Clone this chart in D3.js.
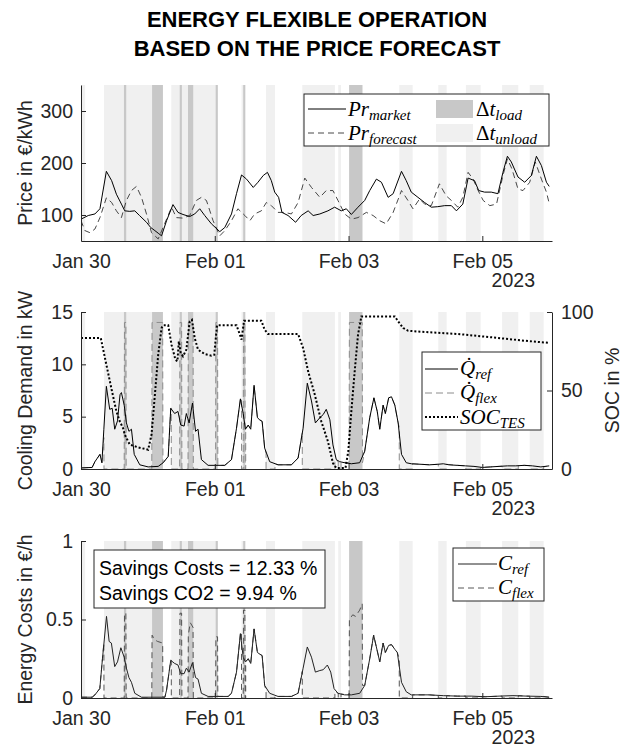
<!DOCTYPE html>
<html>
<head>
<meta charset="utf-8">
<script src="https://cdn.jsdelivr.net/npm/d3@7"></script>
<style>
  body { margin: 0; background: #fff; }
  svg { display: block; }
  text { font-family: "Liberation Sans", Arial, sans-serif; fill: #262626; }
  .math { font-family: "Liberation Serif", "Times New Roman", serif; font-style: italic; fill: #000; }
  .axis path, .axis line { stroke: #262626; }
</style>
</head>
<body>
<svg id="chart" width="634" height="755"></svg>
<script>
(function() {
    'use strict';

    // --- Data (hours since Jan 30 2023 00:00) ---
    var xTickHours = [0, 48, 96, 144];
    var xTickLabels = ['Jan 30', 'Feb 01', 'Feb 03', 'Feb 05'];
    var yearLabel = '2023';

    var loadBands = [[15.4, 16.25], [25.5, 29.4], [35.4, 36.2], [38.4, 40.3], [48.3, 49.1], [58.2, 58.9], [96.2, 101]];
    var unloadBands = [[0, 1.5], [8.25, 15.4], [16.25, 25.5], [32.4, 35.4], [36.2, 38.4], [40.3, 48.3], [57.6, 59.1],
        [66.4, 69.6], [79.4, 91.1], [92.3, 93.3], [114.2, 119], [128.2, 131.2], [138.1, 143.4], [151.1, 156.9], [161, 166]];

    var priceMarket = [[0,92],[2.6,99],[5,102],[6.8,112],[9.1,184],[11,166],[12.7,140],[14.5,121],[15.7,108],[17.5,107],
        [19.3,108],[21,99],[23.5,86],[25,76],[26.5,70],[27.7,65],[28.9,60],[30.7,89],[33,120],[34.8,105],[36.6,101],[39,97],
        [40.8,102],[42.6,112],[44.4,99],[46.8,83],[49.8,68],[51.6,76],[54,102],[55.8,141],[57.6,177],[59.4,169],[61.8,153],
        [63.5,163],[65.4,176],[66.9,182],[68.3,166],[69.5,144],[70.9,134],[72.1,105],[74.3,99],[77,86],[79,99],[81.5,108],
        [83.3,99],[85.7,102],[88.6,108],[91,115],[93.4,108],[95.2,112],[97,101],[99.4,115],[101.8,128],[103.6,147],[106,169],
        [107.8,163],[110.2,134],[112,141],[115,184],[116.7,166],[118.5,144],[120.9,134],[123.3,124],[125.7,115],[128,116],
        [130.5,118],[132.9,118],[134.7,108],[137,121],[138.9,171],[141.2,166],[142.7,147],[144.8,144],[147.2,144],[149.6,141],
        [151.4,182],[153,213],[154.4,202],[156.8,173],[159.2,163],[161.6,176],[163.4,213],[165.2,195],[167,163],[168,155]];

    var priceForecast = [[0,89],[1.4,70],[3.2,66],[5,73],[6.8,95],[9.1,133],[11,124],[12.7,108],[14.5,95],[16.3,128],
        [18.1,147],[19.9,155],[21.7,134],[23.5,102],[25.3,66],[27.7,54],[30,83],[32.5,115],[34.2,95],[36.6,94],[39,99],
        [41.4,128],[43.2,134],[45,128],[47.4,89],[49.8,60],[51.6,70],[54,89],[56.3,112],[58.8,99],[60.6,89],[62.3,102],
        [64.7,108],[66.5,124],[68.3,118],[70.7,105],[73.1,105],[75.5,102],[77.9,124],[80.3,171],[82.7,153],[85.7,134],
        [88,147],[90.4,147],[92.2,128],[94.6,102],[97,92],[99.4,95],[102.4,105],[104.8,99],[107.2,89],[109.5,83],[112,105],
        [115,147],[117.3,128],[119.1,112],[121.5,131],[123.3,121],[125.7,118],[128.6,160],[131,137],[132.9,128],[135.2,115],
        [137,134],[138.9,182],[140.7,169],[142.5,147],[144.3,128],[146.7,118],[149.1,121],[151.4,176],[153,208],[154.6,189],
        [156.8,150],[158.6,147],[161,163],[163,202],[165.2,169],[167,144],[168.1,120]];

    var qRef = [[0,0.1],[4,0.15],[5,0.7],[6.8,1.4],[7.5,0.6],[8.2,3.8],[9.1,7.9],[10.3,5.7],[11.2,5.8],[12.1,3.8],[13.1,4.6],
        [14,7.1],[14.5,7.3],[15.5,6.1],[16.3,4.4],[17.2,3.6],[18.1,3.8],[19.1,1.4],[21.1,0.4],[24.1,0.2],[27.7,0.25],[29.5,0.6],
        [31.3,1.2],[32.2,5.8],[33.6,5.3],[34.8,5.5],[35.8,4.2],[37,4.1],[37.8,5.3],[38.8,4.4],[40,6.3],[41.1,3.6],[42,3.8],
        [43.2,0.9],[45.6,0.35],[51.6,0.35],[54,0.9],[55.8,3.9],[57.2,6.7],[58.2,5.3],[59,3.8],[60,4.2],[60.9,3.8],[62.1,8.0],
        [63.3,4.9],[64.1,4.7],[65,4.55],[65.9,2.0],[67.7,0.7],[70.7,0.4],[75.5,0.4],[77.9,1.05],[79.7,3.9],[81.2,8.2],[82.7,6.5],
        [84.1,4.4],[85.7,4.9],[86.9,5.2],[88,5.7],[89.3,4.7],[90.4,2.3],[91.6,0.9],[92.8,0.7],[94.6,0.6],[97,0.5],[100,0.6],
        [101.8,1.7],[103.6,4.9],[105.1,6.8],[106.3,5.5],[107.2,3.8],[108.4,6.1],[109.2,5.3],[110.4,6.8],[111.4,6.9],[112.6,6.1],
        [113.8,4.4],[115,1.4],[116.7,0.6],[118.5,0.5],[122,0.45],[125,0.4],[128,0.45],[130,0.5],[132,0.4],[135,0.35],[138,0.3],
        [141,0.25],[144,0.15],[147,0.2],[150,0.25],[153,0.3],[156,0.3],[159,0.35],[162,0.3],[165,0.2],[168,0.3]];

    var qFlex = [[0,0.1],[4,0.15],[5,0.7],[6.8,1.4],[7.5,0.6],[8.2,3.0],[8.25,0],[15.5,0],[15.6,14],[16.1,14],[16.2,0],
        [25.4,0],[25.5,14],[29.3,14],[29.4,0.6],[31.3,1.2],[32.2,5.8],[32.4,5.8],[32.4,0],[35.4,0],[35.5,14],[36.1,14],[36.2,0],
        [38.4,0],[38.5,14],[40.2,14],[40.3,0],[48.3,0],[48.4,14],[49,14],[49.1,0.35],[51.6,0.35],[54,0.9],[55.8,3.9],[57.2,6.7],
        [57.6,6.8],[57.6,0],[58.2,0],[58.3,14],[58.8,14],[58.9,0],[59.1,0],[59.1,3.8],[60,4.2],[60.9,3.8],[62.1,8.0],[63.3,4.9],
        [64.1,4.7],[65,4.55],[65.9,2.0],[66.4,1.5],[66.4,0],[69.6,0],[69.6,0.5],[70.7,0.4],[75.5,0.4],[77.9,1.05],[79.4,3.5],
        [79.4,0],[91.1,0],[91.1,0.9],[92.3,0.7],[92.3,0],[93.3,0],[93.3,0.65],[96.2,0.6],[96.3,14],[100.9,14],[101,0.6],
        [101.8,1.7],[103.6,4.9],[105.1,6.8],[106.3,5.5],[107.2,3.8],[108.4,6.1],[109.2,5.3],[110.4,6.8],[111.4,6.9],[112.6,6.1],
        [113.8,4.4],[114.2,4.0],[114.2,0],[119,0],[119,0.5],[122,0.45],[125,0.4],[128.2,0.45],[128.2,0],[131.2,0],[131.2,0.45],
        [135,0.35],[138.1,0.3],[138.1,0],[143.4,0],[143.4,0.15],[147,0.2],[151.1,0.27],[151.1,0],[156.9,0],[156.9,0.3],
        [159,0.35],[161,0.32],[161,0],[166,0],[166,0.2],[168,0.3]];

    var socTes = [[0,83.4],[7.1,83.4],[9.1,66.5],[11,50.5],[12.7,36.7],[13.9,30.4],[15.1,26],[15.7,22],[17.5,15.5],[20.5,13.8],
        [24.1,12.3],[25.3,21.9],[26.5,47],[27.7,72.8],[28.9,89.8],[29.5,91.5],[31.3,91.5],[32.5,79],[33.9,69.6],[34.6,68.6],
        [35.1,81.3],[35.8,73.9],[36.6,71.8],[37.8,76],[39,94],[39.8,95],[40.8,83.4],[42,76],[44.4,73.2],[46.8,72.2],[47.8,72.8],
        [48.8,91.5],[55.8,91.5],[57,85.6],[57.6,82.4],[58.5,94.5],[64.7,94.5],[65.9,88.7],[67.1,86],[77.9,86],[79.7,77],
        [81.5,62.2],[83.9,47.3],[86.2,30.4],[88.6,17.6],[90.4,3.8],[91.6,0.6],[94.9,0.6],[95.9,11.3],[97,36.7],[98.2,62.2],
        [99.4,85.6],[100.6,97.2],[112.6,97.2],[113.8,94],[115.6,89.8],[117.4,88],[123.3,87.3],[135.2,86],[147.2,83.9],
        [159.2,81.7],[168.1,80.3]];

    var costRef = [[0,0.005],[4,0.005],[5,0.02],[6.75,0.06],[7.7,0.25],[9.15,0.52],[10.1,0.36],[10.9,0.35],[12.1,0.2],
        [13.1,0.23],[14.3,0.32],[15.5,0.26],[16.3,0.19],[17.2,0.13],[18.1,0.1],[19.3,0.03],[21.7,0.005],[30.1,0.005],[30.7,0.05],
        [32.2,0.24],[33.6,0.22],[34.8,0.21],[35.8,0.155],[37,0.155],[37.8,0.19],[38.8,0.165],[40,0.225],[41.1,0.13],[42,0.12],
        [43.2,0.03],[45.6,0.01],[52.8,0.01],[54,0.03],[55.8,0.165],[57.2,0.41],[58.2,0.26],[59,0.23],[60,0.25],[60.9,0.22],
        [62.1,0.44],[63.3,0.29],[64.1,0.28],[65,0.27],[65.9,0.08],[67.7,0.03],[70.7,0.01],[75.5,0.01],[77.9,0.03],[79.7,0.19],
        [81.2,0.325],[82.7,0.26],[84.1,0.165],[85.7,0.175],[86.9,0.18],[88.4,0.21],[89.6,0.165],[90.8,0.06],[92.2,0.03],
        [94.6,0.02],[97,0.02],[100,0.03],[101.8,0.08],[103.6,0.25],[105,0.4],[106.3,0.3],[107.2,0.23],[108.4,0.35],[109.2,0.29],
        [110.4,0.335],[111.4,0.34],[112.6,0.31],[113.5,0.29],[115,0.1],[116.7,0.04],[118.5,0.02],[125,0.02],[130,0.015],
        [135,0.012],[140,0.012],[145,0.008],[150,0.012],[155,0.015],[160,0.012],[165,0.01],[168,0.005]];

    var costFlex = [[0,0.005],[4,0.005],[5,0.02],[6.75,0.06],[7.7,0.25],[8.2,0.35],[8.25,0],[15.5,0],[15.6,0.54],[16.1,0.54],
        [16.2,0],[25.4,0],[25.5,0.4],[26.5,0.37],[27.5,0.36],[29.3,0.35],[29.4,0.005],[30.1,0.005],[30.7,0.05],[32.2,0.24],
        [32.4,0.24],[32.4,0],[35.4,0],[35.5,0.54],[36.1,0.54],[36.2,0],[38.4,0],[38.5,0.4],[39.2,0.48],[40.2,0.45],[40.3,0],
        [48.3,0],[48.4,0.39],[49,0.39],[49.1,0.01],[52.8,0.01],[54,0.03],[55.8,0.165],[57.2,0.41],[57.6,0.42],[57.6,0],[58.2,0],
        [58.3,0.56],[58.8,0.56],[58.9,0],[59.1,0],[59.1,0.23],[60,0.25],[60.9,0.22],[62.1,0.44],[63.3,0.29],[64.1,0.28],
        [65,0.27],[65.9,0.08],[66.4,0.05],[66.4,0],[69.6,0],[69.6,0.01],[75.5,0.01],[77.9,0.03],[79.4,0.17],[79.4,0],[91.1,0],
        [91.1,0.04],[92.3,0.03],[92.3,0],[93.3,0],[93.3,0.025],[96.2,0.02],[96.3,0.5],[97.5,0.53],[98.5,0.52],[100,0.56],
        [100.9,0.6],[101,0.08],[101.8,0.08],[103.6,0.25],[105,0.4],[106.3,0.3],[107.2,0.23],[108.4,0.35],[109.2,0.29],
        [110.4,0.335],[111.4,0.34],[112.6,0.31],[113.5,0.29],[114.2,0.25],[114.2,0],[119,0],[119,0.02],[125,0.02],
        [128.2,0.015],[128.2,0],[131.2,0],[131.2,0.015],[135,0.012],[138.1,0.012],[138.1,0],[143.4,0],[143.4,0.008],
        [145,0.008],[151.1,0.012],[151.1,0],[156.9,0],[156.9,0.015],[160,0.012],[161,0.012],[161,0],[166,0],[166,0.01],[168,0.005]];

    var savingsText = ['Savings Costs = 12.33 %', 'Savings CO2 = 9.94 %'];

    // --- Layout ---
    var svg = d3.select('#chart');
    var left = 81, right = 552;
    var fs = 19.5;
    var x = d3.scaleLinear().domain([0, 169]).range([left, right]);

    var panels = [
        { top: 85, bottom: 241, domain: [50, 350], ticks: [100, 200, 300], label: 'Price in \u20ac/kWh' },
        { top: 312, bottom: 469, domain: [0, 15], ticks: [0, 5, 10, 15], label: 'Cooling Demand in kW' },
        { top: 541, bottom: 698, domain: [0, 1], ticks: [0, 0.5, 1], label: 'Energy Costs in \u20ac/h' }
    ];

    // Title
    svg.append('text').attr('x', 317).attr('y', 27).attr('text-anchor', 'middle')
        .style('font-size', '22px').style('font-weight', 'bold').style('fill', '#000')
        .text('ENERGY FLEXIBLE OPERATION');
    svg.append('text').attr('x', 317).attr('y', 56).attr('text-anchor', 'middle')
        .style('font-size', '22px').style('font-weight', 'bold').style('fill', '#000')
        .text('BASED ON THE PRICE FORECAST');

    var line = function(y) {
        return d3.line().x(function(d) { return x(d[0]); }).y(function(d) { return y(d[1]); });
    };

    panels.forEach(function(p, i) {
        p.y = d3.scaleLinear().domain(p.domain).range([p.bottom, p.top]);
        var g = svg.append('g');

        svg.append('clipPath').attr('id', 'clip' + i).append('rect')
            .attr('x', left).attr('y', p.top).attr('width', right - left).attr('height', p.bottom - p.top);

        // bands
        g.selectAll('.unload').data(unloadBands).join('rect')
            .attr('x', function(d) { return x(d[0]); }).attr('y', p.top)
            .attr('width', function(d) { return x(d[1]) - x(d[0]); }).attr('height', p.bottom - p.top)
            .attr('fill', '#f0f0f0');
        g.selectAll('.load').data(loadBands).join('rect')
            .attr('x', function(d) { return x(d[0]); }).attr('y', p.top)
            .attr('width', function(d) { return x(d[1]) - x(d[0]); }).attr('height', p.bottom - p.top)
            .attr('fill', '#c8c8c8');

        p.lines = g.append('g').attr('clip-path', 'url(#clip' + i + ')');

        // axes
        var ax = svg.append('g').attr('class', 'axis')
            .attr('transform', 'translate(0,' + p.bottom + ')')
            .call(d3.axisBottom(x).tickValues(xTickHours)
                .tickFormat(function(d, k) { return xTickLabels[k]; })
                .tickSize(-5).tickSizeOuter(0).tickPadding(13));
        var ay = svg.append('g').attr('class', 'axis')
            .attr('transform', 'translate(' + left + ',0)')
            .call(d3.axisLeft(p.y).tickValues(p.ticks).tickFormat(d3.format('~g'))
                .tickSize(-5).tickSizeOuter(0).tickPadding(8));
        [ax, ay].forEach(function(a) {
            a.selectAll('text').style('font-size', fs + 'px').style('font-family', '"Liberation Sans", Arial, sans-serif')
                .attr('fill', '#262626');
        });

        svg.append('text').attr('x', 535).attr('y', p.bottom + 46).attr('text-anchor', 'end')
            .style('font-size', fs + 'px').text(yearLabel);

        svg.append('text')
            .attr('transform', 'translate(32,' + ((p.top + p.bottom) / 2) + ') rotate(-90)')
            .attr('text-anchor', 'middle').style('font-size', fs + 'px').text(p.label);
    });

    // --- Panel 1: prices ---
    var p1 = panels[0];
    p1.lines.append('path').datum(priceForecast).attr('d', line(p1.y))
        .attr('fill', 'none').attr('stroke', '#333').attr('stroke-width', 0.9).attr('stroke-dasharray', '6,4');
    p1.lines.append('path').datum(priceMarket).attr('d', line(p1.y))
        .attr('fill', 'none').attr('stroke', '#000').attr('stroke-width', 1);

    // --- Panel 2: cooling demand + SOC ---
    var p2 = panels[1];
    var ySoc = d3.scaleLinear().domain([0, 100]).range([p2.bottom, p2.top]);
    var aSoc = svg.append('g').attr('class', 'axis').attr('transform', 'translate(' + right + ',0)')
        .call(d3.axisRight(ySoc).tickValues([0, 50, 100]).tickSize(-5).tickSizeOuter(0).tickPadding(9));
    aSoc.selectAll('text').style('font-size', fs + 'px').style('font-family', '"Liberation Sans", Arial, sans-serif')
        .attr('fill', '#262626');
    svg.append('text')
        .attr('transform', 'translate(619,' + ((p2.top + p2.bottom) / 2) + ') rotate(-90)')
        .attr('text-anchor', 'middle').style('font-size', fs + 'px').text('SOC in %');

    p2.lines.append('path').datum(qFlex).attr('d', line(p2.y))
        .attr('fill', 'none').attr('stroke', '#8c8c8c').attr('stroke-width', 1).attr('stroke-dasharray', '7,4');
    p2.lines.append('path').datum(qRef).attr('d', line(p2.y))
        .attr('fill', 'none').attr('stroke', '#000').attr('stroke-width', 1);
    p2.lines.append('path').datum(socTes).attr('d', line(ySoc))
        .attr('fill', 'none').attr('stroke', '#000').attr('stroke-width', 2).attr('stroke-dasharray', '2,2');

    // --- Panel 3: costs ---
    var p3 = panels[2];
    p3.lines.append('path').datum(costFlex).attr('d', line(p3.y))
        .attr('fill', 'none').attr('stroke', '#444').attr('stroke-width', 0.9).attr('stroke-dasharray', '6,4');
    p3.lines.append('path').datum(costRef).attr('d', line(p3.y))
        .attr('fill', 'none').attr('stroke', '#222').attr('stroke-width', 1);

    // --- Legends ---
    function box(x0, y0, w, h) {
        svg.append('rect').attr('x', x0).attr('y', y0).attr('width', w).attr('height', h)
            .attr('fill', '#fff').attr('stroke', '#262626').attr('stroke-width', 1);
    }
    function sample(x0, x1, y, stroke, dash, width) {
        svg.append('line').attr('x1', x0).attr('x2', x1).attr('y1', y).attr('y2', y)
            .attr('stroke', stroke).attr('stroke-width', width || 1).attr('stroke-dasharray', dash || null);
    }
    function math(x0, y, main, sub, prefix) {
        var t = svg.append('text').attr('class', 'math').attr('x', x0).attr('y', y).style('font-size', '21px');
        if (prefix) t.append('tspan').style('font-style', 'normal').text(prefix);
        t.append('tspan').text(main);
        t.append('tspan').attr('dy', 4).style('font-size', '15px').text(sub);
        return t;
    }

    box(304, 94, 245, 52);
    sample(308, 346, 109, '#000');
    math(348, 116, 'Pr', 'market');
    sample(308, 346, 133, '#333', '6,4', 0.9);
    math(348, 140, 'Pr', 'forecast');
    svg.append('rect').attr('x', 436).attr('y', 100).attr('width', 37).attr('height', 18).attr('fill', '#c8c8c8');
    svg.append('rect').attr('x', 436).attr('y', 124).attr('width', 37).attr('height', 18).attr('fill', '#f0f0f0');
    math(476, 116, 't', 'load', '\u0394');
    math(476, 140, 't', 'unload', '\u0394');

    box(422, 352, 119, 78);
    sample(425, 458, 369, '#000');
    math(460, 375, 'Q\u0307', 'ref');
    sample(425, 458, 393, '#8c8c8c', '7,4');
    math(460, 399, 'Q\u0307', 'flex');
    sample(425, 458, 417, '#000', '2,2', 2);
    math(460, 424, 'SOC', 'TES');

    box(453, 548, 91, 53);
    sample(458, 497, 564, '#222');
    math(498, 570, 'C', 'ref');
    sample(458, 497, 588, '#444', '6,4', 0.9);
    math(498, 594, 'C', 'flex');

    // Savings text box
    box(94, 550, 231, 58);
    savingsText.forEach(function(s, k) {
        svg.append('text').attr('x', 99).attr('y', 575 + k * 25)
            .style('font-size', fs + 'px').style('fill', '#000').text(s);
    });
})();
</script>
</body>
</html>
